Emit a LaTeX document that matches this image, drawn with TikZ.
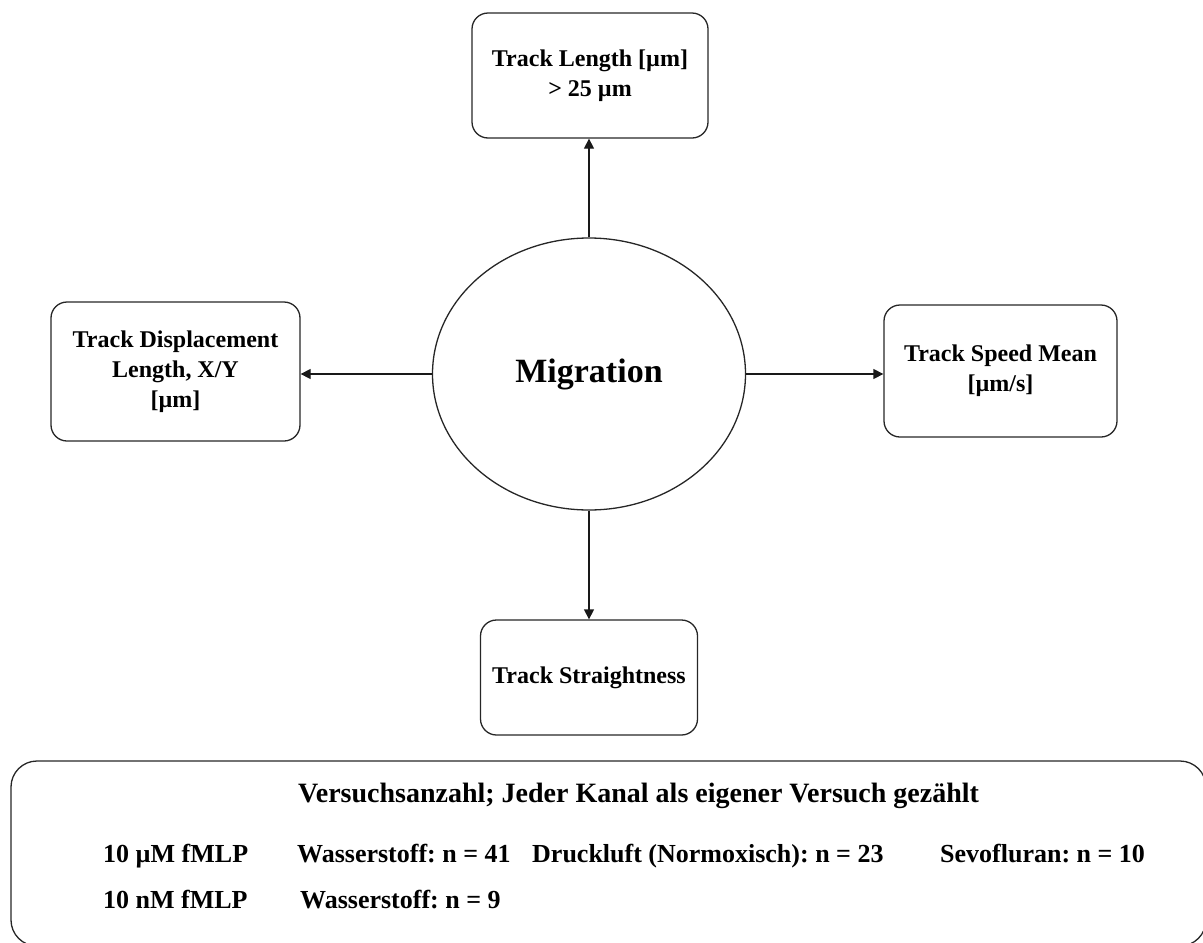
\documentclass[tikz,border=0pt]{standalone}
\usepackage{fontspec}
\setmainfont{Liberation Serif}
\usetikzlibrary{arrows.meta,shapes.geometric}
\frenchspacing

\tikzset{
  every picture/.style={x=1pt,y=-1pt},
  metric/.style={draw=black!85, line width=1.3pt, rounded corners=16pt,
    align=center, inner sep=0pt, font=\bfseries\fontsize{24}{30}\selectfont},
  hub/.style={draw=black!85, line width=1.3pt, ellipse, inner sep=0pt,
    minimum width=313pt, minimum height=272pt,
    font=\bfseries\fontsize{34}{40}\selectfont},
  link/.style={draw=black!90, line width=1.3pt, -{Triangle[length=10pt,width=10pt]}},
  panel/.style={draw=black!85, line width=1.3pt, rounded corners=26pt,
    inner sep=0pt},
  ptitle/.style={anchor=base west, inner sep=0pt,
    font=\bfseries\fontsize{28}{32}\selectfont},
  pcell/.style={anchor=base west, inner sep=0pt,
    font=\bfseries\fontsize{26}{30}\selectfont}
}

\begin{document}
\begin{tikzpicture}
  \useasboundingbox (0,0) rectangle (1203,943);

  % central hub
  \node[hub] (mig) at (589,374) {Migration};

  % measured track parameters
  \node[metric, minimum width=236pt, minimum height=125pt] (len) at (590,75.5)
    {Track Length [µm]\\> 25 µm};
  \node[metric, minimum width=249pt, minimum height=139pt] (disp) at (175.5,371.5)
    {Track Displacement\\Length, X/Y\\{}[µm]};
  \node[metric, minimum width=233pt, minimum height=132pt] (speed) at (1000.5,371)
    {Track Speed Mean\\{}[µm/s]};
  \node[metric, minimum width=217pt, minimum height=115pt] (straight) at (589,677.5)
    {Track Straightness};

  % connectors from the hub
  \draw[link] (mig.north) -- (len.south -| mig.north);
  \draw[link] (mig.west) -- (disp.east |- mig.west);
  \draw[link] (mig.east) -- (speed.west |- mig.east);
  \draw[link] (mig.south) -- (straight.north -| mig.south);

  % experiment count panel
  \node[panel, minimum width=1195pt, minimum height=185pt] (counts) at (608.5,853.5) {};
  \node[ptitle] (ttl) at (298,802) {Versuchsanzahl; Jeder Kanal als eigener Versuch gezählt};
  \node[pcell] (c11) at (103,862) {10 µM fMLP};
  \node[pcell] (c12) at (297,862) {Wasserstoff: n = 41};
  \node[pcell] (c13) at (532,862) {Druckluft (Normoxisch): n = 23};
  \node[pcell] (c14) at (940,862) {Sevofluran: n = 10};
  \node[pcell] (c21) at (103,908) {10 nM fMLP};
  \node[pcell] (c22) at (300,908) {Wasserstoff: n = 9};
\end{tikzpicture}
\end{document}
